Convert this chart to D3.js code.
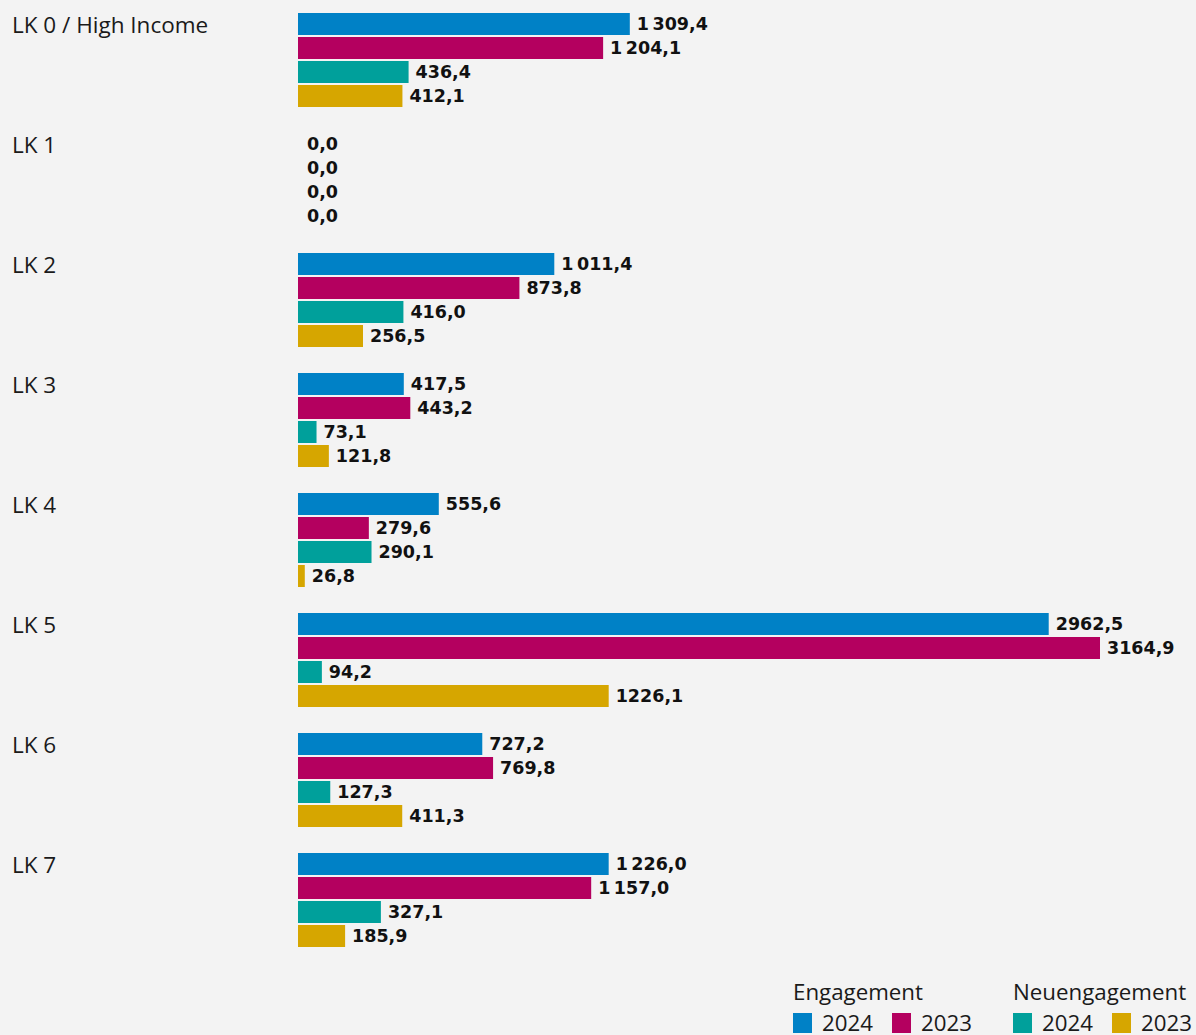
<!DOCTYPE html>
<html>
<head>
<meta charset="utf-8">
<script src="https://cdn.jsdelivr.net/npm/d3@7"></script>
<style>
  body { margin: 0; background: #f3f3f3; }
  svg { display: block; }
</style>
</head>
<body>
<svg id="chart" width="1196" height="1035"></svg>
<script>
const categories = ['LK 0 / High Income', 'LK 1', 'LK 2', 'LK 3', 'LK 4', 'LK 5', 'LK 6', 'LK 7']
const eng2024 = [1309.4, 0, 1011.4, 417.5, 555.6, 2962.5, 727.2, 1226.0]
const eng2023 = [1204.1, 0, 873.8, 443.2, 279.6, 3164.9, 769.8, 1157.0]
const neu2024 = [436.4, 0, 416.0, 73.1, 290.1, 94.2, 127.3, 327.1]
const neu2023 = [412.1, 0, 256.5, 121.8, 26.8, 1226.1, 411.3, 185.9]
// in the source the LK 5 labels are printed without a thousands gap
const ungrouped = ['LK 5']

const seriesKeys = ['eng2024', 'eng2023', 'neu2024', 'neu2023']
const seriesValues = { eng2024, eng2023, neu2024, neu2023 }
const colors = { eng2024: '#0081c6', eng2023: '#b4005f', neu2024: '#00a09b', neu2023: '#d6a600' }

const legendGroups = [
  { title: 'Engagement', items: [['eng2024', '2024'], ['eng2023', '2023']] },
  { title: 'Neuengagement', items: [['neu2024', '2024'], ['neu2023', '2023']] }
]

const rows = []
categories.forEach((cat, i) => {
  seriesKeys.forEach(key => {
    rows.push({ cat, key, value: seriesValues[key][i] })
  })
})

const locale = d3.formatLocale({ decimal: ',', thousands: '\u2009', grouping: [3], currency: ['', ''] })
const fmtGroup = locale.format(',.1f')
const fmtPlain = locale.format('.1f')

const svg = d3.select('#chart')

const x = d3.scaleLinear().domain([0, 3164.9]).range([298, 1100])
const y0 = d3.scaleBand().domain(categories).range([13, 973])
const y1 = d3.scaleBand().domain(seriesKeys).range([0, 96])

svg.selectAll('text.cat')
  .data(categories)
  .join('text')
  .attr('class', 'cat')
  .attr('x', 12)
  .attr('y', d => y0(d) + y1.bandwidth() / 2)
  .attr('dy', '0.36em')
  .text(d => d)
  .style('font-family', 'Open Sans, sans-serif')
  .style('font-size', '22.5px')
  .style('fill', '#1a1a1a')

svg.selectAll('rect.bar')
  .data(rows)
  .join('rect')
  .attr('class', 'bar')
  .attr('x', x(0))
  .attr('y', d => y0(d.cat) + y1(d.key))
  .attr('width', d => x(d.value) - x(0))
  .attr('height', y1.bandwidth() - 2)
  .style('fill', d => colors[d.key])

svg.selectAll('text.val')
  .data(rows)
  .join('text')
  .attr('class', 'val')
  .attr('x', d => x(d.value) + (d.value === 0 ? 9 : 7))
  .attr('y', d => y0(d.cat) + y1(d.key) + (y1.bandwidth() - 2) / 2)
  .attr('dy', '0.37em')
  .text(d => ungrouped.includes(d.cat) ? fmtPlain(d.value) : fmtGroup(d.value))
  .style('font-family', 'DejaVu Sans, sans-serif')
  .style('font-weight', 'bold')
  .style('font-size', '17.5px')
  .style('fill', '#111')

const legend = svg.append('g')
const legendX = [793, 1013]
legendGroups.forEach((grp, gi) => {
  const g = legend.append('g').attr('transform', `translate(${legendX[gi]},0)`)
  g.append('text')
    .attr('x', 0)
    .attr('y', 1000)
    .text(grp.title)
    .style('font-family', 'Open Sans, sans-serif')
    .style('font-size', '22.3px')
    .style('fill', '#1a1a1a')
  grp.items.forEach((item, ii) => {
    const ox = ii * 99
    g.append('rect')
      .attr('x', ox)
      .attr('y', 1013)
      .attr('width', 19)
      .attr('height', 20)
      .style('fill', colors[item[0]])
    g.append('text')
      .attr('x', ox + 29)
      .attr('y', 1031)
      .text(item[1])
      .style('font-family', 'Open Sans, sans-serif')
      .style('font-size', '22.3px')
      .style('fill', '#1a1a1a')
  })
})
</script>
</body>
</html>
